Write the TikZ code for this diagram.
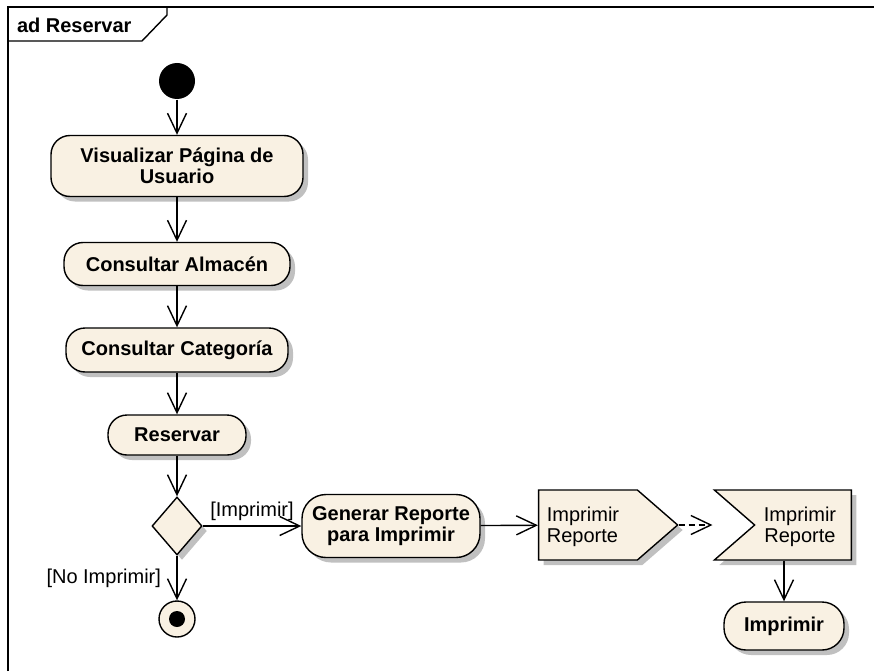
\documentclass[tikz,border=0pt]{standalone}
\usepackage{fontspec}
\setmainfont{Liberation Sans}
\usepackage{tikz}
\usetikzlibrary{arrows.meta, positioning}
\usetikzlibrary{shapes.geometric, shapes.symbols, shadows}
\definecolor{actfill}{RGB}{249,241,227}
\definecolor{shadowgray}{RGB}{192,192,192}
\newlength{\lw}
\setlength{\lw}{1.4pt}
\newcommand{\umlfont}{\fontsize{20}{21}\selectfont}

\begin{document}
\begin{tikzpicture}[x=1pt, y=-1pt, line width=\lw,
    every node/.style={font=\umlfont},
    shade/.style={drop shadow={shadow xshift=5pt, shadow yshift=-5pt, fill=shadowgray, opacity=1}},
    act/.style={draw, fill=actfill, rounded corners=19pt, font=\bfseries\umlfont, align=center, inner sep=0pt, shade},
    sig/.style={signal, draw, fill=actfill, signal pointer angle=82, minimum height=70pt, inner sep=0pt, shade},
    flow/.style={-{Straight Barb[length=20pt, width=19pt]}}]
    \useasboundingbox (0,0) rectangle (874,671);
    \def\colx{177}

    % frame and title tab
    \draw [line width=2pt] (8,671) -- (8,7) -- (874,7);
    \draw (8,41) -- (142,41) -- (167,15) -- (167,7);
    \node [anchor=west, font=\bfseries\umlfont] (title) at (13,25) {ad Reservar};

    % main column
    \node [circle, fill=black, minimum size=36pt, inner sep=0pt] (start) at (\colx,81) {};
    \node [act, minimum width=252pt, minimum height=61pt] (visual) at (\colx,166) {Visualizar Página de\\Usuario};
    \node [act, minimum width=226pt, minimum height=43pt] (almacen) at (\colx,264) {Consultar Almacén};
    \node [act, minimum width=222pt, minimum height=44pt] (categoria) at (\colx,350) {Consultar Categoría};
    \node [act, minimum width=138pt, minimum height=40pt] (reservar) at (\colx,435) {Reservar};
    \node [diamond, draw, fill=actfill, minimum width=50pt, minimum height=58pt, inner sep=0pt, shade] (decision) at (\colx,526) {};
    \node [circle, draw, fill=actfill, minimum size=36pt, inner sep=0pt] (fin) at (\colx,619) {};
    \node [circle, fill=black, minimum size=16pt, inner sep=0pt] (findot) at (fin) {};

    % print branch
    \node [act, minimum width=178pt, minimum height=63pt, rounded corners=24pt] (generar) at (391,526) {Generar Reporte\\para Imprimir};
    \node [sig, signal to=east, minimum width=139pt] (send) at (588,525) {};
    \node [align=left] (sendtxt) at (583,527) {Imprimir\\Reporte};
    \node [sig, signal from=west, signal to=nowhere, minimum width=137pt] (accept) at (803,525) {};
    \node [align=center] (accepttxt) at (800,527) {Imprimir\\Reporte};
    \node [act, minimum width=120pt, minimum height=48pt, rounded corners=22pt] (imprimir) at (784,626) {Imprimir};

    % flows
    \draw [flow] (start) -- (visual);
    \draw [flow] (visual) -- (almacen);
    \draw [flow] (almacen) -- (categoria);
    \draw [flow] (categoria) -- (reservar);
    \draw [flow] (reservar) -- (decision);
    \draw [flow] (decision) -- node [left, xshift=-12pt] (noprint) {[No Imprimir]} (fin);
    \draw [flow] (decision) -- node [above, yshift=1pt] (print) {[Imprimir]} (generar);
    \draw [flow] (generar) -- (send);
    \draw [flow, dashed, dash pattern=on 6pt off 4pt] (send.east) -- (send.east -| accept.north west);
    \draw [flow] (accept.south -| imprimir) -- (imprimir);
\end{tikzpicture}
\end{document}
